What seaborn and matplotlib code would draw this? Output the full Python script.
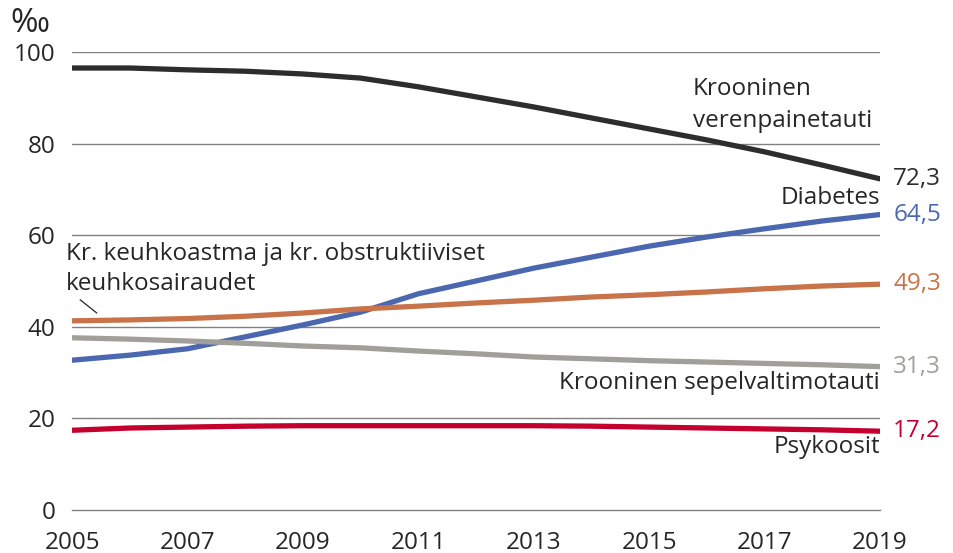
import pandas as pd
import numpy as np
import matplotlib.pyplot as plt
import seaborn as sns

years = list(range(2005, 2020))

verenpaine = [96.5, 96.5, 96.1, 95.8, 95.2, 94.3, 92.4, 90.2, 88.0, 85.6, 83.2, 80.8, 78.2, 75.3, 72.3]
diabetes = [32.7, 33.8, 35.2, 37.8, 40.4, 43.2, 47.2, 50.0, 52.8, 55.2, 57.6, 59.6, 61.4, 63.1, 64.5]
keuhko = [41.3, 41.5, 41.8, 42.3, 43.0, 43.9, 44.5, 45.2, 45.8, 46.5, 47.0, 47.6, 48.3, 48.9, 49.3]
sepel = [37.6, 37.3, 36.9, 36.4, 35.8, 35.4, 34.7, 34.1, 33.4, 33.0, 32.6, 32.3, 32.0, 31.7, 31.3]
psykoosit = [17.4, 17.9, 18.1, 18.3, 18.4, 18.4, 18.4, 18.4, 18.4, 18.3, 18.1, 17.9, 17.7, 17.5, 17.2]

series = {
    "verenpaine": verenpaine,
    "diabetes": diabetes,
    "keuhko": keuhko,
    "sepel": sepel,
    "psykoosit": psykoosit,
}
colors = {
    "verenpaine": "#2d2d2d",
    "diabetes": "#4a67b0",
    "keuhko": "#c8734a",
    "sepel": "#a19f9a",
    "psykoosit": "#c4002f",
}
end_labels = ["72,3", "64,5", "49,3", "31,3", "17,2"]

df = pd.DataFrame([
    {"year": y, "value": v, "series": name}
    for name, vals in series.items()
    for y, v in zip(years, vals)
])

sns.set_style("white")
plt.rcParams["font.family"] = ["Open Sans", "DejaVu Sans"]

fig = plt.figure(figsize=(9.54, 5.53), dpi=100)
ax = fig.add_axes([0.0755, 0.0778, 0.8469, 0.8282])

for y in [20, 40, 60, 80, 100]:
    ax.axhline(y, color="#808080", lw=1.0, zorder=0)

sns.lineplot(data=df, x="year", y="value", hue="series", palette=colors,
             linewidth=3.8, legend=False, ax=ax, zorder=3)

fs = 17.5
ax.set_xlim(2005, 2019)
ax.set_ylim(0, 100)
ax.set_xlabel("")
ax.set_ylabel("")
ax.set_xticks(years)
ax.set_xticklabels([str(y) if (y - 2005) % 2 == 0 else "" for y in years])
ax.set_yticks([0, 20, 40, 60, 80, 100])
ax.tick_params(axis="x", length=8, width=1, color="#808080", direction="out",
               labelsize=fs, pad=7)
ax.tick_params(axis="y", length=0, labelsize=fs, pad=12)
for s in ["top", "right", "left"]:
    ax.spines[s].set_visible(False)
ax.spines["bottom"].set_color("#808080")
ax.spines["bottom"].set_linewidth(1.0)

ax.text(2015.76, 88.4, "Krooninen\nverenpainetauti", ha="left", va="center",
        fontsize=fs, linespacing=1.42)
ax.text(2019, 68.1, "Diabetes", ha="right", va="center", fontsize=fs)
ax.text(2004.9, 52.6, "Kr. keuhkoastma ja kr. obstruktiiviset\nkeuhkosairaudet",
        ha="left", va="center", fontsize=fs, linespacing=1.33)
ax.plot([2005.14, 2005.43], [45.9, 43.0], color="#222222", lw=0.9, zorder=4)
ax.text(2019, 27.7, "Krooninen sepelvaltimotauti", ha="right", va="center", fontsize=fs)
ax.text(2019, 13.8, "Psykoosit", ha="right", va="center", fontsize=fs)

for (name, vals), lab in zip(series.items(), end_labels):
    ax.text(2019.23, vals[-1], lab, ha="left", va="center", fontsize=fs,
            color=colors[name], clip_on=False)

# per mille unit above the y axis
fig.text(0.011, 0.958, "‰", ha="left", va="center", fontsize=24)

fig.savefig("out.png", dpi=100)
